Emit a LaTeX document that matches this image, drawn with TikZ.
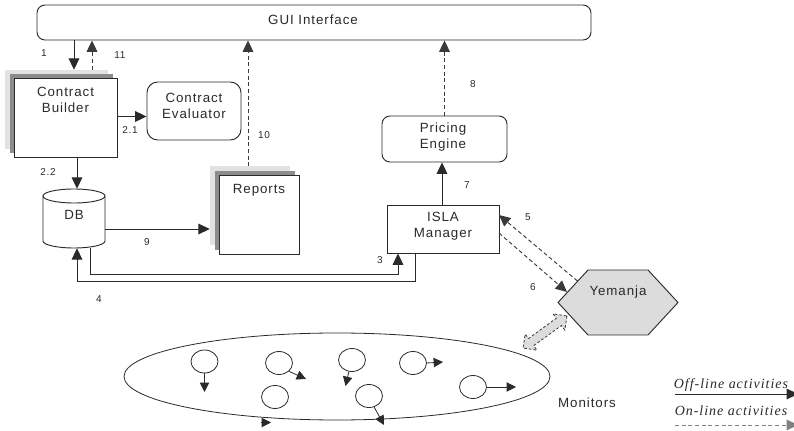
\documentclass[tikz,border=0pt]{standalone}
\usepackage{fontspec}
\setmainfont{Liberation Sans}[LetterSpace=7]
\newfontfamily\legendfont{Liberation Serif}[LetterSpace=7]
\usetikzlibrary{arrows.meta,shapes.geometric}
\definecolor{ink}{HTML}{2A2A2A}
\definecolor{dashink}{HTML}{3A3A3A}
\definecolor{shadelight}{HTML}{E2E2E2}
\definecolor{shadedark}{HTML}{8C8C8C}
\definecolor{hexfill}{HTML}{DCDCDC}
\tikzset{
  box/.style={draw=ink, fill=white, line width=0.7pt, inner sep=0pt},
  rbox/.style={box, rounded corners=6pt},
  shlight/.style={fill=shadelight, draw=none, inner sep=0pt},
  shdark/.style={fill=shadedark, draw=none, inner sep=0pt},
  lbl/.style={font=\fontsize{10}{12}\selectfont, align=center, text=ink},
  num/.style={font=\fontsize{7.5}{9}\selectfont, text=ink, inner sep=0pt},
  arr/.style={draw=ink, line width=0.7pt, -{Triangle[length=8.5pt,width=8pt]}},
  darr/.style={arr, draw=dashink, dash pattern=on 3pt off 2pt},
  mon/.style={ellipse, draw=ink, line width=0.6pt, minimum width=20.25pt, minimum height=17.25pt, inner sep=0pt},
  marr/.style={draw=ink, line width=0.6pt, -{Triangle[length=7pt,width=7pt]}}
}
\begin{document}
\begin{tikzpicture}[x=0.75pt, y=-0.75pt]
\useasboundingbox (0,0) rectangle (794,431);

% GUI bar
\node[rbox, minimum width=415.5pt, minimum height=26.25pt] (gui) at (314,22.5) {};
\node[lbl] (guit) at (313,20) {GUI Interface};

% Contract Builder with stacked shadows
\node[shlight, minimum width=77.25pt, minimum height=59.25pt] (cbs1) at (56.5,109.5) {};
\node[shdark, minimum width=77.25pt, minimum height=59.25pt] (cbs2) at (61.5,113.5) {};
\node[box, minimum width=77.25pt, minimum height=59.25pt] (cb) at (65.5,117.5) {};
\node[lbl] (cbt) at (65.5,100) {Contract\\Builder};

% Contract Evaluator
\node[rbox, rounded corners=8pt, minimum width=70.5pt, minimum height=43.5pt] (ce) at (194,111) {};
\node[lbl] (cet) at (194,106) {Contract\\Evaluator};

% DB cylinder
\node[minimum width=46.5pt, minimum height=44.25pt, inner sep=0pt] (db) at (74,218.5) {};
\draw[ink, line width=0.7pt, fill=white]
  (43,196) -- (43,241) arc[start angle=180, end angle=360, x radius=23.25pt, y radius=5.25pt]
  -- (105,196) arc[start angle=0, end angle=180, x radius=23.25pt, y radius=5.25pt] -- cycle;
\draw[ink, line width=0.7pt] (105,196) arc[start angle=0, end angle=-180, x radius=23.25pt, y radius=5.25pt];
\node[lbl] (dbt) at (74,215) {DB};

% Reports with stacked shadows
\node[shlight, minimum width=60pt, minimum height=59.25pt] (rps1) at (250,206) {};
\node[shdark, minimum width=60pt, minimum height=59.25pt] (rps2) at (254.5,211) {};
\node[box, minimum width=60pt, minimum height=59.25pt] (rp) at (259,214.5) {};
\node[lbl] (rpt) at (259,190) {Reports};

% Pricing Engine
\node[rbox, minimum width=93.75pt, minimum height=34.5pt] (pe) at (444.5,139) {};
\node[lbl] (pet) at (443,137) {Pricing\\Engine};

% ISLA Manager
\node[box, minimum width=84pt, minimum height=36pt] (im) at (443,229) {};
\node[lbl] (imt) at (443,226) {ISLA\\Manager};

% Yemanja hexagon
\node[minimum width=90pt, minimum height=48.75pt, inner sep=0pt] (ye) at (618,302.5) {};
\draw[ink, line width=0.7pt, fill=hexfill]
  (558,302.5) -- (588,270) -- (648,270) -- (678,302.5) -- (648,335) -- (588,335) -- cycle;
\node[lbl] (yet) at (618,292) {Yemanja};

% Monitors
\node[ellipse, draw=ink, line width=0.6pt, minimum width=319.5pt, minimum height=65.25pt, inner sep=0pt] (mons) at (337,376.5) {};
\node[lbl] (monst) at (587,403) {Monitors};
\node[mon] (m1) at (204.5,361.5) {};
\node[mon] (m2) at (279,363) {};
\node[mon] (m3) at (275,397) {};
\node[mon] (m4) at (352,360) {};
\node[mon] (m5) at (413,363) {};
\node[mon] (m6) at (369,396) {};
\node[mon] (m7) at (473,387) {};
\coordinate (e1) at (204.5,392);
\coordinate (e2) at (306,379);
\coordinate (e4) at (345.5,386);
\coordinate (e5) at (443,362);
\coordinate (e6) at (384,425);
\coordinate (e7) at (516,387);
\draw[marr] (m1.south) -- (e1);
\draw[marr] (m2.-40) -- (e2);
\draw[marr] (m4.-105) -- (e4);
\draw[marr] (m5.east) -- (e5);
\draw[marr] (m6.-65) -- (e6);
\draw[marr] (m7.east) -- (e7);
\coordinate (ob1) at (261,422.5);
\coordinate (ob2) at (271,422.5);
\draw[marr] (ob1) -- (ob2);

% Fat double arrow between Yemanja and the monitors
\draw[dashink, line width=0.6pt, dash pattern=on 2pt off 1.5pt, fill=hexfill]
  (567,316) -- (564.8,330.0) -- (561.5,325.5) -- (533.7,345.7) -- (537.0,350.2)
  -- (523,348) -- (525.2,334.0) -- (528.5,338.5) -- (556.3,318.3) -- (553.0,313.8) -- cycle;

% Connectors
\coordinate (x74) at (74,0);
\coordinate (x92) at (92,0);
\coordinate (x77) at (77,0);
\coordinate (x90) at (90,0);
\coordinate (x248) at (248,0);
\coordinate (x398) at (398,0);
\coordinate (x415) at (415,0);
\coordinate (x442) at (442,0);
\coordinate (y116) at (0,116.5);
\coordinate (y229) at (0,229);
\draw[arr] (gui.south -| x74) -- (cbs1.north -| x74);
\draw[darr] (cbs1.north -| x92) -- (gui.south -| x92);
\draw[arr] (cb.east |- y116) -- (ce.west |- y116);
\draw[arr] (cb.south -| x77) -- (db.north -| x77);
\draw[arr] (db.east |- y229) -- (rps1.west |- y229);
\draw[darr] (rps1.north -| x248) -- (gui.south -| x248);
\draw[darr] (pe.north) -- (gui.south -| pe.north);
\draw[arr] (im.north -| x442) -- (pe.south -| x442);
\coordinate (c3a) at (90,274);
\coordinate (c3b) at (398,274);
\draw[arr] (db.south -| x90) -- (c3a) -- (c3b) -- (im.south -| x398);
\coordinate (c4a) at (415,281);
\coordinate (c4b) at (77,281);
\draw[arr] (im.south -| x415) -- (c4a) -- (c4b) -- (db.south -| x77);
\coordinate (y5s) at (577.5,281);
\coordinate (y5e) at (499,215);
\coordinate (y6s) at (499,233);
\coordinate (y6e) at (567,292);
\draw[darr] (y5s) -- (y5e);
\draw[darr] (y6s) -- (y6e);

% Step numbers
\node[num] (n1) at (44,53) {1};
\node[num] (n11) at (120,55) {11};
\node[num] (n21) at (130,130) {2.1};
\node[num] (n22) at (48,172) {2.2};
\node[num] (n9) at (147,242) {9};
\node[num] (n10) at (264,135) {10};
\node[num] (n8) at (473,84) {8};
\node[num] (n7) at (467,185) {7};
\node[num] (n5) at (528,217) {5};
\node[num] (n6) at (533,287) {6};
\node[num] (n3) at (380,260) {3};
\node[num] (n4) at (99,299) {4};

% Legend
\node[font=\legendfont\itshape\fontsize{10.5}{12}\selectfont, text=ink] (lg1) at (731,385) {Off-line activities};
\node[font=\legendfont\itshape\fontsize{10.5}{12}\selectfont, text=ink] (lg2) at (731,411) {On-line activities};
\coordinate (l1a) at (675,394);
\coordinate (l1b) at (798,394);
\coordinate (l2a) at (675,425);
\coordinate (l2b) at (798,425);
\draw[arr] (l1a) -- (l1b);
\draw[darr, draw=gray] (l2a) -- (l2b);
\end{tikzpicture}
\end{document}
